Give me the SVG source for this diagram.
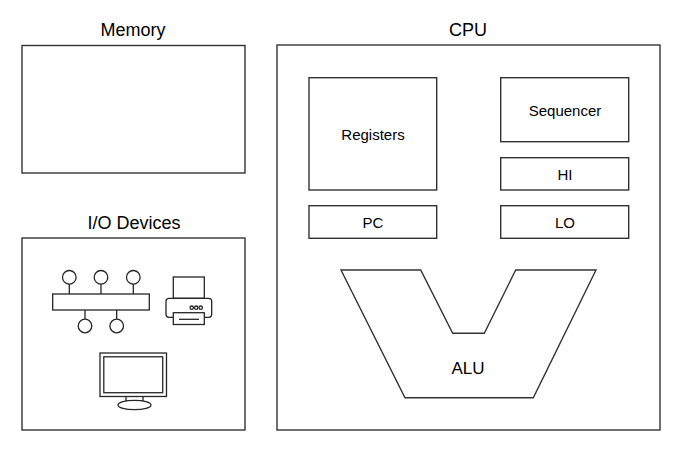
<svg xmlns="http://www.w3.org/2000/svg" width="691" height="454" viewBox="0 0 691 454">
<style>
.box{fill:#fff;stroke:#333;stroke-width:1.4}
.ln{fill:none;stroke:#262626;stroke-width:1.3}
.ic{fill:#fff;stroke:#262626;stroke-width:1.3}
.title{font-family:"Liberation Sans",Arial,sans-serif;font-size:18px;fill:#000;text-anchor:middle}
.lbl{font-family:"Liberation Sans",Arial,sans-serif;font-size:15px;fill:#000;text-anchor:middle}
.alu{font-family:"Liberation Sans",Arial,sans-serif;font-size:17px;fill:#000;text-anchor:middle}
</style>
<rect width="691" height="454" fill="#fff"/>
<g id="memory">
<text class="title" x="133" y="36">Memory</text>
<rect class="box" x="22" y="45.5" width="223" height="127.5"/>
</g>
<g id="io-devices">
<text class="title" x="134" y="228.5">I/O Devices</text>
<rect class="box" x="22" y="238" width="223" height="192"/>
<g id="network-icon">
<line class="ln" x1="69.3" y1="284" x2="69.3" y2="294"/>
<line class="ln" x1="101" y1="284" x2="101" y2="294"/>
<line class="ln" x1="133.3" y1="284" x2="133.3" y2="294"/>
<line class="ln" x1="85" y1="310" x2="85" y2="319"/>
<line class="ln" x1="116.7" y1="310" x2="116.7" y2="319"/>
<rect class="ic" x="52.7" y="294" width="96.6" height="16"/>
<circle class="ic" cx="69.3" cy="277.3" r="6.8"/>
<circle class="ic" cx="101" cy="277.3" r="6.8"/>
<circle class="ic" cx="133.3" cy="277.3" r="6.8"/>
<circle class="ic" cx="85" cy="326" r="6.8"/>
<circle class="ic" cx="116.7" cy="326" r="6.8"/>
</g>
<g id="printer-icon">
<rect class="ic" x="173.3" y="277" width="31" height="21.3"/>
<rect class="ic" x="166" y="298.3" width="45.7" height="19" rx="3"/>
<rect class="ic" x="173.3" y="312.7" width="31" height="11.8"/>
<line class="ln" x1="179" y1="319.3" x2="199" y2="319.3"/>
<circle class="ic" cx="191.7" cy="307.7" r="1.7"/>
<circle class="ic" cx="196.2" cy="307.7" r="1.7"/>
<circle class="ic" cx="200.7" cy="307.7" r="1.7"/>
</g>
<g id="monitor-icon">
<rect class="ic" x="126" y="396" width="17" height="5"/>
<ellipse class="ic" cx="134.5" cy="405" rx="16.5" ry="4.7"/>
<rect class="ic" x="100" y="353" width="66.5" height="43.5"/>
<rect class="ln" x="103.8" y="356.8" width="58.9" height="35.9"/>
</g>
</g>
<g id="cpu">
<text class="title" x="468" y="36">CPU</text>
<rect class="box" x="277" y="45" width="383" height="385"/>
</g>
<g id="registers">
<rect class="box" x="309" y="77.7" width="127.7" height="112.3"/>
<text class="lbl" x="373" y="140">Registers</text>
</g>
<g id="pc">
<rect class="box" x="309" y="205.7" width="127.7" height="32.6"/>
<text class="lbl" x="373" y="227.5">PC</text>
</g>
<g id="sequencer">
<rect class="box" x="500.7" y="77.7" width="128" height="64"/>
<text class="lbl" x="565" y="115.5">Sequencer</text>
</g>
<g id="hi">
<rect class="box" x="500.7" y="157.7" width="128" height="32.3"/>
<text class="lbl" x="565" y="179.5">HI</text>
</g>
<g id="lo">
<rect class="box" x="500.7" y="205.7" width="128" height="32.6"/>
<text class="lbl" x="565" y="227.5">LO</text>
</g>
<g id="alu">
<polygon class="box" points="341,270 420.7,270 452.7,333.3 484.3,333.3 515.7,270 596,270 533.3,397.7 405,397.7"/>
<text class="alu" x="468" y="374">ALU</text>
</g>
<g id="connectors"></g>
</svg>
